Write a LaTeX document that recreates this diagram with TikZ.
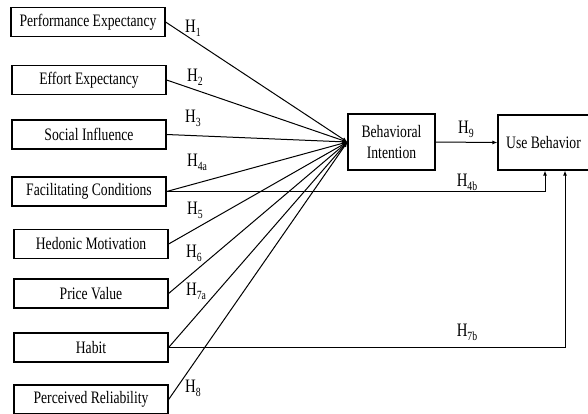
\documentclass[tikz,border=0pt]{standalone}
\usepackage{fontspec}
\setmainfont{Liberation Serif}[FakeStretch=0.78]
\usetikzlibrary{arrows.meta}
\newcommand{\hsub}[1]{H\raisebox{-4pt}{\fontsize{12.5}{12.5}\selectfont #1}}
\begin{document}
\begin{tikzpicture}[x=1pt,y=-1pt,
  lbox/.style={draw,line width=1.2pt,minimum width=154pt,minimum height=29pt,inner sep=0pt,font=\fontsize{17.5}{20}\selectfont},
  rbox/.style={draw,line width=1.2pt,inner sep=0pt,font=\fontsize{17.5}{21}\selectfont,align=center},
  hl/.style={font=\fontsize{19}{20}\selectfont,inner sep=0pt},
  link/.style={line width=1pt},
  arr/.style={line width=1pt,-{Latex[length=5pt,width=4pt]}}
]
\useasboundingbox (0,0) rectangle (588,413);
\node[lbox] (pe) at (88,22) {Performance Expectancy};
\node[lbox] (ee) at (89,80) {Effort Expectancy};
\node[lbox] (si) at (89,134.5) {Social Influence};
\node[lbox] (fc) at (89,191.5) {Facilitating Conditions};
\node[lbox] (hm) at (91,244) {Hedonic Motivation};
\node[lbox] (pv) at (91,293.5) {Price Value};
\node[lbox] (hb) at (91,347.5) {Habit};
\node[lbox] (pr) at (91,399.5) {Perceived Reliability};
\node[rbox,minimum width=87pt,minimum height=56pt] (bi) at (391.5,142) {Behavioral\\Intention};
\node[rbox,minimum width=91pt,minimum height=55pt] (ub) at (543.5,142.5) {Use Behavior};
\coordinate (c4) at (545,191.5);
\coordinate (c7) at (565,347.5);
\foreach \n in {pe,ee,si,fc,hm,pv,hb,pr}
  \draw[arr] (\n.east) -- (bi.west);
\draw[arr] (bi.east) -- (ub.west);
\draw[link] (fc.east) -- (c4);
\draw[arr] (c4) -- (c4 |- ub.south);
\draw[link] (hb.east) -- (c7);
\draw[arr] (c7) -- (c7 |- ub.south);
\node[hl] (h1) at (193,28) {\hsub{1}};
\node[hl] (h2) at (195,77) {\hsub{2}};
\node[hl] (h3) at (193,118) {\hsub{3}};
\node[hl] (h4a) at (197,162) {\hsub{4a}};
\node[hl] (h5) at (195,210) {\hsub{5}};
\node[hl] (h6) at (194,253) {\hsub{6}};
\node[hl] (h7a) at (196,291) {\hsub{7a}};
\node[hl] (h8) at (193,388) {\hsub{8}};
\node[hl] (h9) at (466,129) {\hsub{9}};
\node[hl] (h4b) at (467,182) {\hsub{4b}};
\node[hl] (h7b) at (467,332) {\hsub{7b}};
\end{tikzpicture}
\end{document}
